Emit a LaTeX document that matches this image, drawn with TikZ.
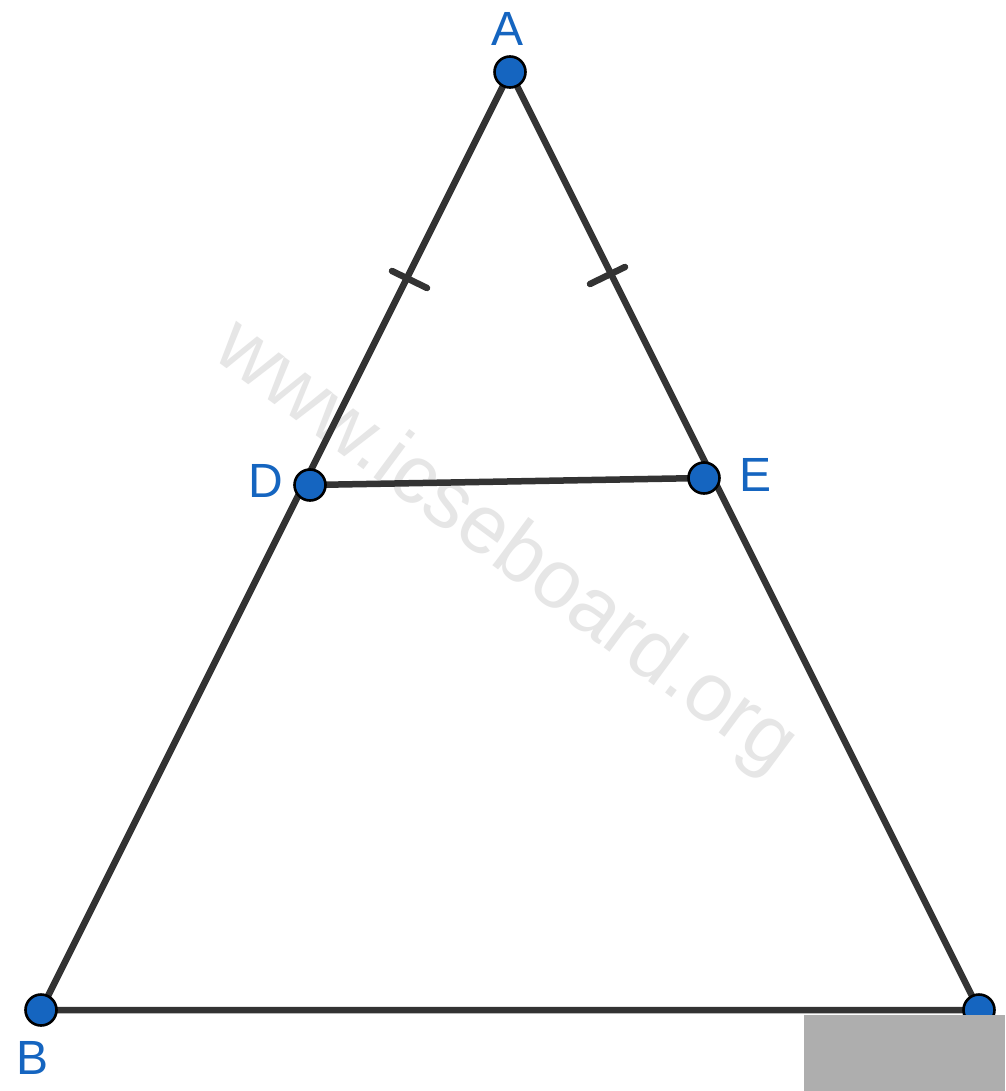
\documentclass[tikz,border=0pt]{standalone}
\usepackage{fontspec}
\setmainfont{Liberation Sans}
\definecolor{ptblue}{HTML}{1565C0}
\definecolor{seg}{HTML}{333333}
\definecolor{wm}{HTML}{E6E6E6}
\definecolor{patch}{HTML}{AEAEAE}
\begin{document}
\begin{tikzpicture}[x=1pt,y=-1pt,
  segment/.style={draw=seg,line width=6.5pt},
  tickmark/.style={draw=seg,line width=6.5pt,line cap=round},
  pt/.style={circle,fill=ptblue,draw=black,line width=2.6pt,minimum size=31pt,inner sep=0pt},
  lbl/.style={text=ptblue,font=\fontsize{48}{56}\selectfont,inner sep=0pt}]
\useasboundingbox (0,0) rectangle (1005,1091);
\fill[white] (0,0) rectangle (1005,1091);
% watermark
\node[text=wm,font=\fontsize{83}{90}\selectfont,rotate=-36.5,inner sep=0pt] (wmk) at (505,548) {www.icseboard.org};
% coordinates
\coordinate (A) at (510,72);
\coordinate (B) at (41,1010);
\coordinate (C) at (979,1010);
\coordinate (D) at (310,485);
\coordinate (E) at (704,478);
\coordinate (t1a) at (392,271);
\coordinate (t1b) at (427,288);
\coordinate (t2a) at (590,284);
\coordinate (t2b) at (625,267);
% segments
\draw[segment] (A) -- (B) -- (C) -- cycle;
\draw[segment] (D) -- (E);
\draw[tickmark] (t1a) -- (t1b);
\draw[tickmark] (t2a) -- (t2b);
% points
\node[pt] (pA) at (A) {};
\node[pt] (pB) at (B) {};
\node[pt] (pC) at (C) {};
\node[pt] (pD) at (D) {};
\node[pt] (pE) at (E) {};
% labels
\node[lbl] (lA) at (508,29) {A};
\node[lbl] (lB) at (33,1058) {B};
\node[lbl] (lD) at (266,481) {D};
\node[lbl] (lE) at (755,475) {E};
% grey patch
\fill[patch] (804,1015) rectangle (1005,1091);
\end{tikzpicture}
\end{document}
